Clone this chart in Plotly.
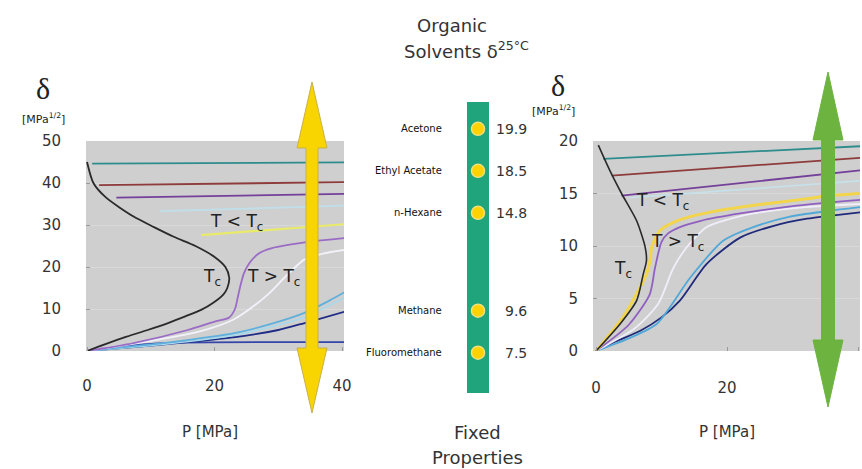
import plotly.graph_objects as go

# ---------------- data ----------------
# H2O panel (P in MPa, delta in MPa^1/2)
h2o_tc_P = [0, 1.0, 3.0, 7.3, 10.5, 13.6, 17.0, 20.0, 21.7, 22.3, 22.0, 21.4, 19.8, 17.9, 15.5, 12.6, 9.5, 6.2, 3.0, 0]
h2o_tc_d = [45, 40.0, 36.5, 32, 29.5, 27.2, 25, 22.4, 20, 17.5, 15, 13.5, 11.5, 9.8, 8.3, 6.6, 5.0, 3.4, 1.7, 0]

h2o_teal_P = [0.8, 40.5];   h2o_teal_d = [44.6, 44.9]
h2o_brown_P = [1.9, 40.5];  h2o_brown_d = [39.5, 40.2]
h2o_purple_P = [4.6, 40.5]; h2o_purple_d = [36.5, 37.4]
h2o_cyan_P = [11.5, 40.5];  h2o_cyan_d = [33.3, 34.6]
h2o_yellow_P = [17.9, 40.5]; h2o_yellow_d = [27.6, 30.2]

h2o_lav_P = [0, 7.3, 15.8, 20.0, 22.3, 23.2, 23.6, 24.0, 24.6, 25.5, 27.0, 29.0, 31.3, 36.0, 40.5]
h2o_lav_d = [0, 1.9, 5.0, 7.0, 8.0, 10.0, 12.5, 15.2, 18.5, 21.0, 23.3, 24.5, 25.2, 26.2, 26.9]
h2o_white_P = [0, 10, 18, 23, 26.4, 28.6, 31, 34, 37, 40.5]
h2o_white_d = [0, 2.4, 4.8, 7.5, 11, 13.8, 17.5, 21.7, 23.2, 24.1]
h2o_lblue_P = [0, 5, 12.6, 23.3, 29, 34, 38, 40.5]
h2o_lblue_d = [0, 0.8, 2.0, 4.3, 6.5, 9.0, 12.0, 14.1]
h2o_pcyan_P = [0, 12.6, 23.3, 34, 40.5]
h2o_pcyan_d = [0, 1.7, 3.8, 8.0, 12.8]
h2o_navy_P = [0, 7.8, 15, 23.3, 30, 34, 40.5]
h2o_navy_d = [0, 1.0, 2.0, 3.3, 5.0, 6.6, 9.4]
h2o_blue_P = [1, 8, 15, 40.5]
h2o_blue_d = [0.3, 1.5, 2.0, 2.1]

# CO2 panel
co2_tc_P = [0.35, 2.1, 3.9, 6.2, 7.5, 7.7, 7.2, 6.2, 3.7, 0]
co2_tc_d = [19.6, 17.2, 15.0, 12.4, 9.9, 8.6, 7.3, 4.8, 2.6, 0]
co2_teal_P = [1.1, 40.3];   co2_teal_d = [18.3, 19.5]
co2_brown_P = [2.4, 40.3];  co2_brown_d = [16.7, 18.4]
co2_purple_P = [3.9, 40.3]; co2_purple_d = [14.8, 17.2]
co2_cyan_P = [5.0, 40.3];   co2_cyan_d = [14.6, 16.2]
co2_yellow_P = [0, 4.1, 6.5, 7.7, 8.3, 8.5, 9.8, 12, 14.4, 18, 22, 27, 32.2, 36, 40.3]
co2_yellow_d = [0, 3.2, 5.8, 7.3, 8.8, 9.9, 11.5, 12.3, 12.8, 13.3, 13.7, 14.1, 14.5, 14.8, 15.0]
co2_lav_P = [0, 5, 8.2, 9, 10, 11, 12.8, 16, 22, 30, 40.3]
co2_lav_d = [0, 2.5, 5.4, 7.9, 10.4, 11.2, 11.8, 12.4, 13.1, 13.8, 14.4]
co2_white_P = [0, 6, 9.5, 11.8, 14, 16.9, 20, 25, 32, 40.3]
co2_white_d = [0, 2.2, 4.5, 7.9, 10, 11.8, 12.5, 13.2, 13.7, 14.0]
co2_lblue_P = [0, 5, 9.3, 14.4, 19.4, 24, 29.6, 35, 40.3]
co2_lblue_d = [0, 1.2, 2.6, 7.0, 10.5, 11.8, 12.8, 13.3, 13.7]
co2_navy_P = [0, 3, 6.7, 10, 12.8, 16.9, 22, 27, 32.2, 36, 40.3]
co2_navy_d = [0, 0.9, 1.9, 3.2, 4.8, 8.3, 10.8, 11.9, 12.6, 12.9, 13.2]

# Organic solvents (fixed properties)
solvent_names = ["Acetone", "Ethyl Acetate", "n-Hexane", "Methane", "Fluoromethane"]
solvent_delta = [19.9, 18.5, 14.8, 9.6, 7.5]
solvent_slot = [0, 1, 2, 4.33, 5.33]   # schematic display order on the bar

h2o_yticks = [0, 10, 20, 30, 40, 50]
co2_yticks = [0, 5, 10, 15, 20]
p_ticks = [0, 20, 40]

# ---------------- figure ----------------
W, H = 862, 469
def px(x): return x / W
def py(y): return 1 - y / H

FONT = "DejaVu Sans"
TXT = "#333333"

fig = go.Figure()

def line(P, d, color, width, ax, shape="spline"):
    fig.add_trace(go.Scatter(x=P, y=d, mode="lines", xaxis=ax[0], yaxis=ax[1],
                             line=dict(color=color, width=width, shape=shape, smoothing=0.7),
                             hoverinfo="skip", showlegend=False))

L = ("x", "y")
R = ("x2", "y2")
# H2O
line(h2o_teal_P, h2o_teal_d, "#2f8c8c", 1.8, L, "linear")
line(h2o_brown_P, h2o_brown_d, "#8e3b3b", 1.8, L, "linear")
line(h2o_purple_P, h2o_purple_d, "#74409a", 1.8, L, "linear")
line(h2o_cyan_P, h2o_cyan_d, "#bfe0ea", 1.8, L, "linear")
line(h2o_yellow_P, h2o_yellow_d, "#e9ea6a", 2.2, L, "linear")
line(h2o_blue_P, h2o_blue_d, "#3444a8", 1.8, L)
line(h2o_navy_P, h2o_navy_d, "#1e2c86", 1.8, L)
line(h2o_pcyan_P, h2o_pcyan_d, "#a6d8ee", 1.6, L)
line(h2o_lblue_P, h2o_lblue_d, "#5fb0dc", 1.8, L)
line(h2o_white_P, h2o_white_d, "#f2f2fa", 1.8, L)
line(h2o_lav_P, h2o_lav_d, "#9a6cc6", 1.8, L)
line(h2o_tc_P, h2o_tc_d, "#2a2a2a", 1.8, L)
# CO2
line(co2_teal_P, co2_teal_d, "#2f8c8c", 1.8, R, "linear")
line(co2_brown_P, co2_brown_d, "#8e3b3b", 1.8, R, "linear")
line(co2_purple_P, co2_purple_d, "#74409a", 1.8, R, "linear")
line(co2_cyan_P, co2_cyan_d, "#c6e1ea", 1.6, R, "linear")
line(co2_navy_P, co2_navy_d, "#1f2a7a", 1.8, R)
line(co2_lblue_P, co2_lblue_d, "#4fa8d8", 1.8, R)
line(co2_white_P, co2_white_d, "#f0eefa", 1.8, R)
line(co2_lav_P, co2_lav_d, "#9060c0", 1.8, R)
line(co2_yellow_P, co2_yellow_d, "#f2d54a", 3.0, R)
line(co2_tc_P, co2_tc_d, "#2a2a2a", 1.6, R)

# solvent dots
fig.add_trace(go.Scatter(x=[0.5] * len(solvent_slot), y=solvent_slot, mode="markers",
                         xaxis="x3", yaxis="y3", cliponaxis=False,
                         marker=dict(size=13, color="#ffd200", line=dict(color="#f1e07a", width=1.5)),
                         hoverinfo="skip", showlegend=False))

axis_common = dict(showline=False, zeroline=False, ticks="inside", ticklen=4, tickcolor="#9a9a9a",
                   tickfont=dict(family=FONT, size=15, color=TXT), gridcolor="#d9d9d9",
                   gridwidth=1, fixedrange=True, automargin=False)

fig.update_layout(
    width=W, height=H, margin=dict(l=0, r=0, t=0, b=0, autoexpand=False),
    paper_bgcolor="white", plot_bgcolor="#cfcfcf", showlegend=False,
    xaxis=dict(domain=[px(86), px(344)], range=[-0.16, 40.3], tickvals=p_ticks,
               ticklabelstandoff=24, anchor="y", showgrid=False, **axis_common),
    yaxis=dict(domain=[py(351), py(141)], range=[0, 50], tickvals=h2o_yticks,
               ticklabelstandoff=24, anchor="x", showgrid=True, **axis_common),
    xaxis2=dict(domain=[px(593), px(860)], range=[-0.46, 40.3], tickvals=p_ticks,
                ticklabelstandoff=26, anchor="y2", showgrid=False, **axis_common),
    yaxis2=dict(domain=[py(351), py(141)], range=[0, 20], tickvals=co2_yticks,
                ticklabelstandoff=14, anchor="x2", showgrid=True, **axis_common),
    xaxis3=dict(domain=[px(467), px(489)], range=[0, 1], visible=False, fixedrange=True,
                anchor="y3", automargin=False),
    yaxis3=dict(domain=[py(393), py(102)], range=[6.29, -0.64], visible=False, fixedrange=True,
                anchor="x3", automargin=False),
)

shapes = []
# green bar
shapes.append(dict(type="rect", xref="x3 domain", yref="y3 domain", x0=0, x1=1, y0=0, y1=1,
                   fillcolor="#20a47b", line=dict(width=0), layer="below"))

def arrow(cx, top, top_base, bot_base, bot, hw, sw, fill, edge):
    pts = [(cx, top), (cx + hw, top_base), (cx + sw, top_base), (cx + sw, bot_base), (cx + hw, bot_base),
           (cx, bot), (cx - hw, bot_base), (cx - sw, bot_base), (cx - sw, top_base), (cx - hw, top_base)]
    path = "M " + " L ".join(f"{px(x):.5f},{py(y):.5f}" for x, y in pts) + " Z"
    return dict(type="path", xref="paper", yref="paper", path=path, fillcolor=fill,
                line=dict(color=edge, width=1), layer="above")

shapes.append(arrow(312, 82, 148, 348, 413, 15, 6, "#f8d400", "#c9b04a"))
shapes.append(arrow(828, 72, 140, 340, 407, 15, 6.5, "#6db33f", "#6db33f"))
fig.update_layout(shapes=shapes)

ann = []
def text(x, y, s, size, xref="paper", yref="paper", xanchor="center", family=FONT, color="#222222"):
    ann.append(dict(x=x, y=y, xref=xref, yref=yref, text=s, showarrow=False, xanchor=xanchor,
                    yanchor="middle", font=dict(family=family, size=size, color=color)))

# left panel labels
text(px(43), py(88), "δ", 30, family="Liberation Serif")
text(px(43), py(118), "[MPa<sup>1/2</sup>]", 11)
text(19.8, 51.0, "H<sub>2</sub>O", 24, "x", "y")
text(23.5, 30.5, "T < T<sub>c</sub>", 17, "x", "y")
text(19.6, 17.4, "T<sub>c</sub>", 17, "x", "y")
text(29.2, 17.4, "T > T<sub>c</sub>", 17, "x", "y")
text(px(210), py(432), "P [MPa]", 15, color=TXT)
# right panel labels
text(px(558), py(85), "δ", 30, family="Liberation Serif")
text(px(553), py(110), "[MPa<sup>1/2</sup>]", 11)
text(20.0, 21.0, "CO<sub>2</sub>", 24, "x2", "y2")
text(10.2, 14.2, "T < T<sub>c</sub>", 17, "x2", "y2")
text(12.4, 10.3, "T > T<sub>c</sub>", 17, "x2", "y2")
text(4.1, 7.8, "T<sub>c</sub>", 17, "x2", "y2")
text(px(727), py(432), "P [MPa]", 15, color=TXT)
# middle
text(px(452), py(25), "Organic", 18, color=TXT)
text(px(466), py(50), "Solvents δ<sup>25°C</sup>", 18, color=TXT)
text(px(477), py(432), "Fixed", 18, color=TXT)
text(px(477), py(457), "Properties", 18, color=TXT)
for name, val, slot in zip(solvent_names, solvent_delta, solvent_slot):
    text(px(444), slot, name, 10, "paper", "y3", xanchor="right", color="#111111")
    text(px(529), slot, f"{val:.1f}", 14, "paper", "y3", xanchor="right", color=TXT)

fig.update_layout(annotations=ann)
fig.write_html("out.html", config={"displayModeBar": False},
               post_script="document.body.style.margin='0';document.body.style.overflow='hidden';")
